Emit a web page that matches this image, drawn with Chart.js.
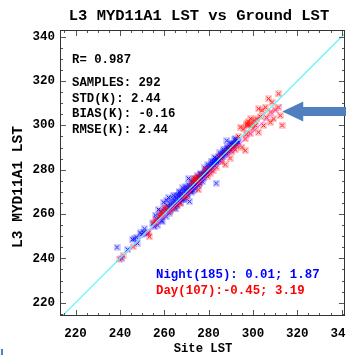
<!DOCTYPE html>
<html>
<head>
<meta charset="utf-8">
<script src="https://cdn.jsdelivr.net/npm/chart.js@4/dist/chart.umd.min.js"></script>
<style>
  html, body { margin: 0; padding: 0; background: #fff; overflow: hidden; }
</style>
</head>
<body>
<canvas id="c" width="350" height="355"></canvas>
<script>
// night (blue) samples: site LST vs MYD11A1 LST
const nightX = [238.7, 240.9, 243.5, 245.6, 246.5, 247.6, 247.9, 249.1, 249.9, 250.6, 251.1, 252.4,
  254.8, 255.6, 256.5, 257.4, 258.2, 258.9, 259.6, 260.3, 261.2, 261.9, 262.7, 262.2, 263.4, 263.9,
  264.5, 265.0, 265.7, 265.2, 266.3, 266.8, 267.2, 267.9, 267.5, 268.1,
  268.6, 268.9, 269.3, 269.8, 270.2, 270.5, 270.9, 271.4, 271.2, 271.7, 272.0, 272.4, 272.8, 273.1,
  273.5, 273.8, 274.2, 274.6, 275.0, 275.3, 275.7, 276.1, 276.5, 276.9, 277.2, 277.6, 278.0, 278.4,
  278.7, 279.1, 279.5, 279.9, 280.3, 280.6,
  281.0, 281.4, 281.8, 282.2, 282.5, 282.9, 283.4, 283.3, 283.7, 284.1, 284.5, 284.9, 285.3, 285.7,
  286.1, 286.5, 286.9, 287.3, 287.7, 288.2, 288.1, 288.5, 289.0, 289.4, 289.8, 290.3, 290.7, 291.1,
  291.6, 292.0, 292.4, 292.9, 293.4,
  256.0, 257.0, 258.5, 259.0, 260.0, 260.8, 261.5, 262.0, 262.9, 263.5, 264.2, 264.8, 265.5, 266.0,
  266.6, 267.0, 267.7, 268.3, 268.8, 269.5, 270.0, 270.7, 271.0, 271.9, 272.5, 273.0, 273.7, 274.4,
  275.1, 275.9, 276.3, 277.0, 277.8, 278.2, 279.0, 279.7, 280.5, 281.2, 282.0, 282.7, 283.5, 284.3,
  285.0, 285.9, 286.7, 287.5, 288.3, 289.2, 290.0, 290.9, 291.8, 292.6];
const nightY = [245.0, 240.0, 244.0, 248.5, 248.8, 249.5, 246.8, 251.5, 250.8, 251.8, 253.3, 251.0,
  255.6, 254.2, 257.8, 262.0, 258.9, 257.1, 265.3, 261.2, 266.1, 263.1, 264.6, 260.4, 262.8, 266.9,
  263.5, 265.8, 268.4, 262.3, 266.0, 269.5, 265.2, 269.1, 267.0, 266.4,
  270.4, 268.2, 267.1, 270.9, 269.0, 271.8, 276.1, 265.6, 270.3, 272.5, 271.0, 269.8, 273.6, 272.2,
  274.5, 271.5, 273.0, 275.8, 274.1, 272.8, 276.5, 275.0, 277.6, 276.0, 274.6, 278.3, 277.1, 279.2,
  277.7, 280.1, 278.4, 281.0, 279.6, 281.9,
  280.3, 282.6, 281.1, 283.5, 282.0, 284.1, 273.9, 282.8, 285.0, 283.6, 285.9, 284.3, 286.6, 285.0,
  287.4, 285.8, 288.1, 286.7, 288.9, 293.1, 287.4, 289.6, 288.2, 290.4, 289.0, 291.3, 289.8, 292.0,
  290.7, 294.0, 291.5, 293.2, 292.2,
  259.5, 255.0, 261.0, 256.5, 262.5, 258.8, 263.8, 267.5, 261.8, 265.0, 268.5, 264.7, 267.2, 264.0,
  268.3, 270.2, 268.0, 271.8, 266.5, 272.2, 270.0, 268.5, 273.2, 270.6, 274.8, 270.5, 276.0, 274.2,
  277.2, 273.9, 278.2, 277.8, 276.2, 280.8, 278.9, 282.2, 280.4, 283.9, 282.5, 285.5, 283.9, 284.8,
  287.6, 286.2, 289.0, 287.9, 290.3, 289.3, 292.0, 291.2, 293.4, 292.6];

// day (red) samples
const dayX = [239.8, 241.5, 246.0, 252.9, 253.3, 255.1, 255.9, 256.3, 257.8, 258.9, 258.9, 259.3,
  260.4, 260.9, 262.5, 264.0, 265.5, 267.2, 268.7, 270.0, 271.5, 272.4, 273.2, 274.0, 274.3, 274.7,
  274.9, 275.4, 275.6, 276.0, 276.9, 278.5, 279.5, 280.7, 280.7, 282.0, 283.5, 285.2, 286.0, 287.5,
  288.2, 289.7, 289.7, 290.5, 291.2, 292.0, 292.8, 293.5, 294.3, 295.0, 295.8, 296.5, 296.5, 297.0,
  297.3, 297.3, 297.8, 298.2, 298.8, 299.5, 299.0, 300.0, 300.5, 301.2, 301.8, 302.5, 302.5, 303.3,
  304.1, 304.8, 305.6, 306.0, 307.0, 307.8, 308.0, 308.6, 309.3, 310.0, 311.6, 311.6, 312.3, 313.1];
const dayY = [239.7, 241.2, 245.2, 251.5, 249.8, 256.0, 256.3, 257.1, 258.9, 261.1, 259.3, 259.6,
  263.1, 262.0, 261.0, 262.5, 264.0, 264.6, 267.9, 268.0, 270.5, 273.9, 275.4, 276.1, 275.2, 274.6,
  276.8, 270.9, 275.8, 274.0, 277.6, 279.9, 277.0, 280.6, 278.4, 279.5, 281.2, 285.9, 283.5, 282.2,
  287.9, 289.4, 285.2, 288.0, 290.1, 289.0, 290.9, 295.0, 299.2, 290.1, 298.4, 293.9, 288.6, 296.0,
  299.9, 300.7, 301.6, 300.2, 296.2, 300.7, 303.0, 298.5, 302.4, 300.0, 302.9, 307.5, 296.9, 304.0,
  306.7, 299.9, 308.2, 303.5, 312.0, 301.4, 306.0, 310.4, 302.9, 307.0, 314.2, 308.2, 304.4, 300.0];

// 1:1 line and regression fit
const oneToOne = [200, 360];
const fitX = [238, 313];
const fitY = [238.1, 309.4];

const xMin = 213, xMax = 341.5;
const yMin = 214, yMax = 343;
const majorTicks = [220, 240, 260, 280, 300, 320, 340];
const minorTicks = [215, 225, 230, 235, 245, 250, 255, 265, 270, 275, 285, 290, 295, 305, 310, 315, 325, 330, 335];

const titleText = 'L3 MYD11A1 LST vs Ground LST';
const xTitle = 'Site LST';
const yTitle = 'L3 MYD11A1 LST';
const statLines = ['SAMPLES: 292', 'STD(K): 2.44', 'BIAS(K): -0.16', 'RMSE(K): 2.44'];
const rText = 'R= 0.987';
const nightText = 'Night(185): 0.01; 1.87';
const dayText = 'Day(107):-0.45; 3.19';
const arrowTarget = [313.2, 306.2];

const MONO = "'Liberation Mono', 'DejaVu Sans Mono', monospace";

function toPoints(xs, ys) {
  return xs.map((x, i) => ({x: x, y: ys[i]}));
}

// small x marker with a pale square behind it
function makeMarker(color, halo) {
  const c = document.createElement('canvas');
  c.width = 7; c.height = 7;
  const g = c.getContext('2d');
  g.fillStyle = halo;
  g.fillRect(0, 0, 7, 7);
  g.strokeStyle = color;
  g.lineWidth = 1;
  g.beginPath();
  g.moveTo(1.5, 1.5); g.lineTo(5.5, 5.5);
  g.moveTo(5.5, 1.5); g.lineTo(1.5, 5.5);
  g.stroke();
  return c;
}

const decor = {
  id: 'decor',
  afterDatasetsDraw(chart) {
    const {ctx, chartArea: a, scales: {x, y}} = chart;
    ctx.save();
    ctx.strokeStyle = '#555';
    ctx.lineWidth = 1;
    ctx.beginPath();
    const tick = (v, len) => {
      const px = Math.round(x.getPixelForValue(v)) + 0.5;
      const py = Math.round(y.getPixelForValue(v)) + 0.5;
      ctx.moveTo(px, a.bottom); ctx.lineTo(px, a.bottom - len);
      ctx.moveTo(px, a.top); ctx.lineTo(px, a.top + len);
      ctx.moveTo(a.left, py); ctx.lineTo(a.left + len, py);
      ctx.moveTo(a.right, py); ctx.lineTo(a.right - len, py);
    };
    majorTicks.forEach(v => tick(v, 6));
    minorTicks.forEach(v => tick(v, 3));
    ctx.stroke();
    ctx.strokeStyle = '#333';
    ctx.strokeRect(a.left + 0.5, a.top + 0.5, a.right - a.left - 1, a.bottom - a.top - 1);
    ctx.restore();
  },
  afterDraw(chart) {
    const {ctx, scales: {x, y}} = chart;
    ctx.save();
    ctx.fillStyle = '#000';
    ctx.textBaseline = 'middle';
    ctx.textAlign = 'center';
    ctx.font = 'bold 15.5px ' + MONO;
    ctx.fillText(titleText, 199, 16);
    ctx.font = 'bold 12.2px ' + MONO;
    ctx.fillText(xTitle, 203, 349);
    ctx.save();
    ctx.translate(18, 187);
    ctx.rotate(-Math.PI / 2);
    ctx.font = 'bold 14.5px ' + MONO;
    ctx.fillText(yTitle, 0, 0);
    ctx.restore();

    ctx.textAlign = 'left';
    ctx.font = 'bold 12.3px ' + MONO;
    ctx.fillText(rText, 72, 60);
    statLines.forEach((t, i) => ctx.fillText(t, 72, 83 + i * 15.5));

    ctx.font = 'bold 12.4px ' + MONO;
    ctx.fillStyle = '#0000ff';
    ctx.fillText(nightText, 156, 275);
    ctx.fillStyle = '#ff0000';
    ctx.fillText(dayText, 156, 290.5);

    // arrow pointing at the warm-end cluster
    const tx = x.getPixelForValue(arrowTarget[0]);
    const ty = y.getPixelForValue(arrowTarget[1]);
    ctx.fillStyle = '#4f7fbf';
    ctx.beginPath();
    ctx.moveTo(tx, ty);
    ctx.lineTo(tx + 21, ty - 10);
    ctx.lineTo(tx + 21, ty - 4.5);
    ctx.lineTo(chart.width, ty - 4.5);
    ctx.lineTo(chart.width, ty + 4.5);
    ctx.lineTo(tx + 21, ty + 4.5);
    ctx.lineTo(tx + 21, ty + 10);
    ctx.closePath();
    ctx.fill();
    ctx.fillRect(1, 349, 2, 6);
    ctx.restore();
  }
};

new Chart(document.getElementById('c'), {
  type: 'scatter',
  data: {
    datasets: [
      {
        type: 'line',
        data: toPoints(oneToOne, oneToOne),
        borderColor: '#5cf4ff',
        borderWidth: 1.2,
        pointRadius: 0,
        showLine: true
      },
      {
        type: 'line',
        data: toPoints(fitX, fitY),
        borderColor: '#ff55ff',
        borderWidth: 1,
        pointRadius: 0,
        showLine: true
      },
      {
        data: toPoints(dayX, dayY),
        pointStyle: makeMarker('#ff0000', 'rgba(255,0,0,0.18)'),
        pointRadius: 3.5
      },
      {
        data: toPoints(nightX, nightY),
        pointStyle: makeMarker('#0000ff', 'rgba(0,0,255,0.16)'),
        pointRadius: 3.5
      }
    ]
  },
  options: {
    responsive: false,
    animation: false,
    devicePixelRatio: 1,
    layout: {padding: {top: 30, right: 1, bottom: 0, left: 0}},
    plugins: {legend: {display: false}, tooltip: {enabled: false}, title: {display: false}},
    scales: {
      x: {
        type: 'linear',
        min: xMin,
        max: xMax,
        grid: {display: false, drawTicks: false},
        border: {display: false},
        ticks: {color: '#000', padding: 10, maxRotation: 0, font: {family: MONO, size: 12.5, weight: 'bold'}},
        afterBuildTicks: s => { s.ticks = majorTicks.map(v => ({value: v})); },
        afterFit: s => { s.height = 39; s.paddingLeft = 0; s.paddingRight = 0; }
      },
      y: {
        type: 'linear',
        min: yMin,
        max: yMax,
        grid: {display: false, drawTicks: false},
        border: {display: false},
        ticks: {color: '#000', padding: 5, font: {family: MONO, size: 12.5, weight: 'bold'}},
        afterBuildTicks: s => { s.ticks = majorTicks.map(v => ({value: v})); },
        afterFit: s => { s.width = 60; s.paddingTop = 0; s.paddingBottom = 0; }
      }
    }
  },
  plugins: [decor]
});
</script>
</body>
</html>
